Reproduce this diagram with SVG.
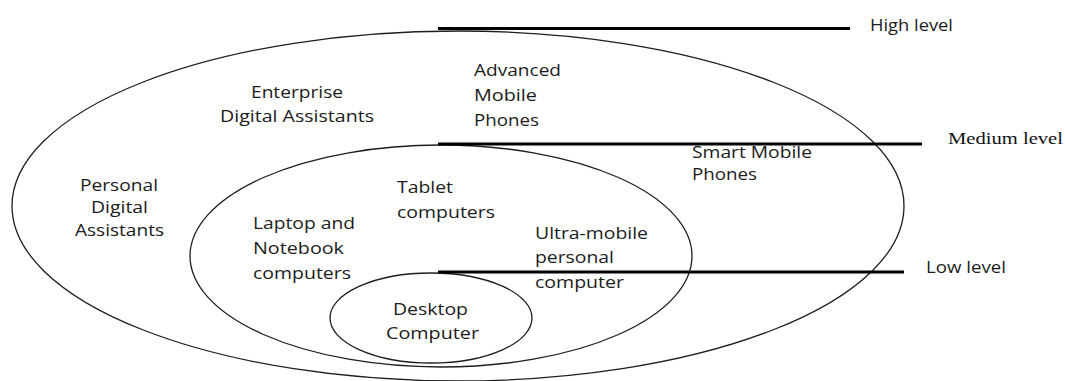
<svg xmlns="http://www.w3.org/2000/svg" width="1065" height="381" viewBox="0 0 1065 381">
<style>
.t{font-family:"Open Sans","Liberation Sans",sans-serif;font-size:16.5px;fill:#1c1c1c}
.s{font-family:"Liberation Serif","Times New Roman",serif;font-size:17px;fill:#111}
.e{fill:none;stroke:#1e1e1e;stroke-width:1.3}
.lv{stroke:#000;stroke-width:3}
</style>
<rect width="1065" height="381" fill="#fff"/>
<g id="outer-ellipse">
<ellipse class="e" cx="458" cy="206" rx="446" ry="175"/>
</g>
<g id="middle-ellipse">
<ellipse class="e" cx="441" cy="256" rx="251" ry="111"/>
</g>
<g id="desktop-ellipse">
<ellipse class="e" cx="431" cy="318" rx="101" ry="45"/>
</g>
<g id="connectors">
<line class="lv" x1="438" y1="28.5" x2="850" y2="28.5"/>
<line class="lv" x1="438" y1="144" x2="922" y2="144"/>
<line class="lv" x1="438" y1="272" x2="904" y2="272"/>
</g>
<g id="high-level"><text class="t" x="870" y="31" textLength="83" lengthAdjust="spacingAndGlyphs">High level</text></g>
<g id="medium-level"><text class="s" x="948" y="144" textLength="115" lengthAdjust="spacingAndGlyphs">Medium level</text></g>
<g id="low-level"><text class="t" x="926" y="273" textLength="80" lengthAdjust="spacingAndGlyphs">Low level</text></g>
<g id="enterprise">
<text class="t" x="251" y="98" textLength="92" lengthAdjust="spacingAndGlyphs">Enterprise</text>
<text class="t" x="220" y="122" textLength="154" lengthAdjust="spacingAndGlyphs">Digital Assistants</text>
</g>
<g id="advanced">
<text class="t" x="474" y="76" textLength="87" lengthAdjust="spacingAndGlyphs">Advanced</text>
<text class="t" x="474" y="101" textLength="63" lengthAdjust="spacingAndGlyphs">Mobile</text>
<text class="t" x="474" y="126" textLength="65" lengthAdjust="spacingAndGlyphs">Phones</text>
</g>
<g id="personal">
<text class="t" x="80" y="191" textLength="78" lengthAdjust="spacingAndGlyphs">Personal</text>
<text class="t" x="91" y="213" textLength="57" lengthAdjust="spacingAndGlyphs">Digital</text>
<text class="t" x="75" y="236" textLength="89" lengthAdjust="spacingAndGlyphs">Assistants</text>
</g>
<g id="smart">
<text class="t" x="692" y="158" textLength="120" lengthAdjust="spacingAndGlyphs">Smart Mobile</text>
<text class="t" x="692" y="180" textLength="65" lengthAdjust="spacingAndGlyphs">Phones</text>
</g>
<g id="tablet">
<text class="t" x="397" y="193" textLength="56" lengthAdjust="spacingAndGlyphs">Tablet</text>
<text class="t" x="397" y="218" textLength="98" lengthAdjust="spacingAndGlyphs">computers</text>
</g>
<g id="laptop">
<text class="t" x="253" y="229" textLength="102" lengthAdjust="spacingAndGlyphs">Laptop and</text>
<text class="t" x="253" y="254" textLength="91" lengthAdjust="spacingAndGlyphs">Notebook</text>
<text class="t" x="253" y="279" textLength="98" lengthAdjust="spacingAndGlyphs">computers</text>
</g>
<g id="umpc">
<text class="t" x="535" y="239" textLength="113" lengthAdjust="spacingAndGlyphs">Ultra-mobile</text>
<text class="t" x="535" y="263" textLength="79" lengthAdjust="spacingAndGlyphs">personal</text>
<text class="t" x="535" y="288" textLength="89" lengthAdjust="spacingAndGlyphs">computer</text>
</g>
<g id="desktop">
<text class="t" x="393" y="315" textLength="75" lengthAdjust="spacingAndGlyphs">Desktop</text>
<text class="t" x="386" y="339" textLength="93" lengthAdjust="spacingAndGlyphs">Computer</text>
</g>
</svg>
